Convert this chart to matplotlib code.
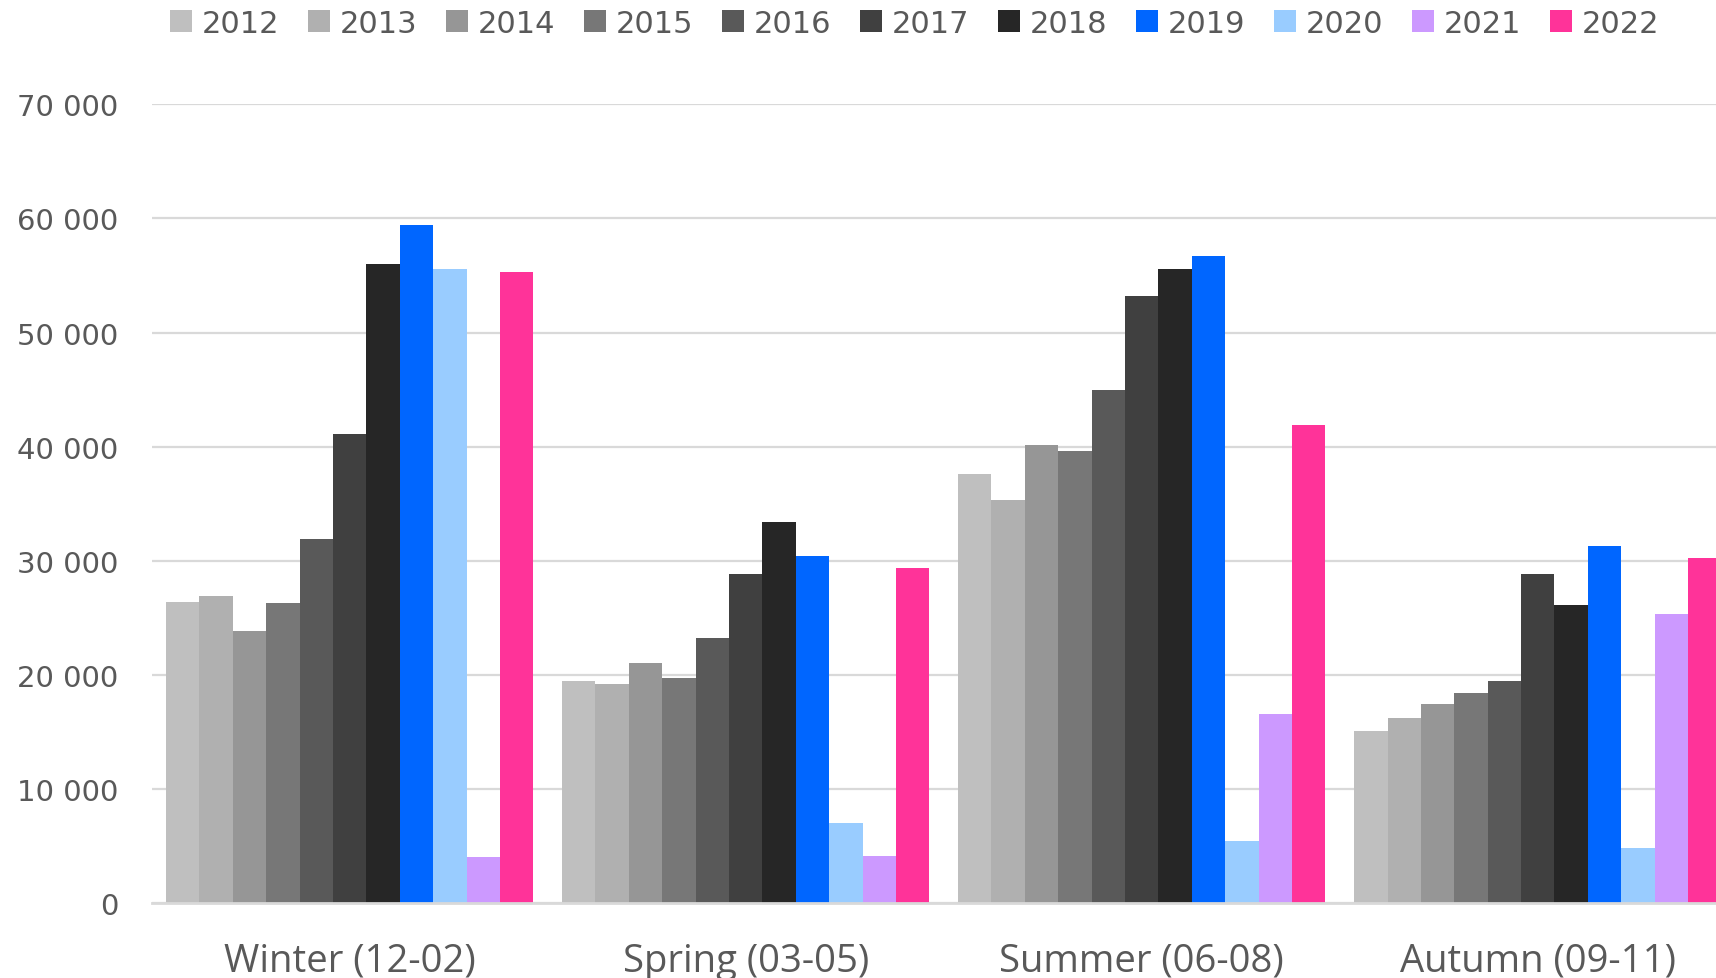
import matplotlib.pyplot as plt
import numpy as np

# seasons and years
seasons = ["Winter (12-02)", "Spring (03-05)", "Summer (06-08)", "Autumn (09-11)"]
years = ["2012", "2013", "2014", "2015", "2016", "2017", "2018", "2019", "2020", "2021", "2022"]

# values per year, one entry per season
v2012 = [26400, 19500, 37600, 15100]
v2013 = [26900, 19200, 35300, 16200]
v2014 = [23800, 21000, 40100, 17400]
v2015 = [26300, 19700, 39600, 18400]
v2016 = [31900, 23200, 45000, 19500]
v2017 = [41100, 28800, 53200, 28800]
v2018 = [56000, 33400, 55600, 26100]
v2019 = [59400, 30400, 56700, 31300]
v2020 = [55600, 7000, 5400, 4800]
v2021 = [4000, 4100, 16600, 25300]
v2022 = [55300, 29400, 41900, 30200]

series = [v2012, v2013, v2014, v2015, v2016, v2017, v2018, v2019, v2020, v2021, v2022]
colors = ["#BFBFBF", "#B0B0B0", "#969696", "#777777", "#595959", "#404040",
          "#262626", "#0066FF", "#99CCFF", "#CC99FF", "#FF3399"]

fig = plt.figure(figsize=(17.16, 9.79), dpi=100)
ax = fig.add_axes([0.0884, 0.0766, 0.9231, 0.8158])

x = np.arange(len(seasons))
w = 0.0843
n = len(years)
for i, (vals, c, yr) in enumerate(zip(series, colors, years)):
    ax.bar(x + (i - (n - 1) / 2) * w, vals, width=w, color=c, label=yr, zorder=3)

ax.set_xlim(-0.5, len(seasons) - 0.5)
ax.set_ylim(0, 70000)
ax.set_yticks(range(0, 70001, 10000))
ax.set_yticklabels([f"{v:,}".replace(",", " ") for v in range(0, 70001, 10000)],
                   fontsize=21, color="#595959")
ax.set_xticks(x)
ax.set_xticklabels(seasons, fontsize=27.5, color="#595959", family="Open Sans")
ax.tick_params(axis="y", length=0, pad=24)
ax.tick_params(axis="x", length=0, pad=28)

ax.grid(axis="y", color="#D9D9D9", linewidth=1.6, zorder=0)
for s in ["top", "right", "left"]:
    ax.spines[s].set_visible(False)
ax.spines["bottom"].set_color("#D9D9D9")
ax.spines["bottom"].set_linewidth(2)
ax.spines["bottom"].set_zorder(4)

leg = fig.legend(loc="upper center", bbox_to_anchor=(0.533, 1.018), ncol=11,
                 frameon=False, handlelength=0.72, handleheight=0.72,
                 handletextpad=0.3, columnspacing=0.96,
                 prop={"family": "Liberation Sans Narrow", "size": 22})
for t in leg.get_texts():
    t.set_color("#595959")

plt.savefig("out.png", dpi=100)
